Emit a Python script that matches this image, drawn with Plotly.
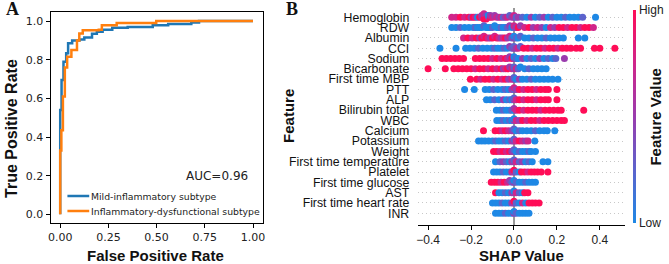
import numpy as np
import plotly.graph_objects as go

# ---------------- Panel A: ROC data ----------------
fpr_mild = [0, 0, 0.007, 0.017, 0.031, 0.041, 0.062, 0.10, 0.125, 0.165, 0.19, 0.22, 0.27, 0.35, 0.48, 0.56, 0.68, 0.72, 1.0]
tpr_mild = [0, 0.54, 0.695, 0.79, 0.833, 0.885, 0.90, 0.905, 0.915, 0.935, 0.945, 0.955, 0.965, 0.97, 0.978, 0.985, 0.993, 1.0, 1.0]
fpr_infl = [0, 0, 0.006, 0.014, 0.024, 0.036, 0.058, 0.087, 0.099, 0.117, 0.20, 0.216, 0.293, 0.498, 1.0]
tpr_infl = [0, 0.33, 0.435, 0.61, 0.76, 0.815, 0.85, 0.90, 0.936, 0.953, 0.955, 0.979, 0.99, 1.0, 1.0]
series_names = ["Mild-inflammatory subtype", "Inflammatory-dysfunctional subtype"]
series_colors = ["#1f77b4", "#ff7f0e"]
auc_label = "AUC=0.96"
roc_xticks = [0, 0.25, 0.5, 0.75, 1.0]
roc_xticktext = ["0.00", "0.25", "0.50", "0.75", "1.00"]
roc_yticks = [0, 0.2, 0.4, 0.6, 0.8, 1.0]
roc_yticktext = ["0.0", "0.2", "0.4", "0.6", "0.8", "1.0"]

# ---------------- Panel B: SHAP beeswarm data ----------------
features = ["Hemoglobin", "RDW", "Albumin", "CCI", "Sodium", "Bicarbonate", "First time MBP",
            "PTT", "ALP", "Bilirubin total", "WBC", "Calcium", "Potassium", "Weight",
            "First time temperature", "Platelet", "First time glucose", "AST",
            "First time heart rate", "INR"]

# (SHAP value, feature-value level 0=low .. 4=high)
hemoglobin = [(-0.29,3),(-0.27,3),(-0.25,4),(-0.23,3),(-0.21,4),(-0.20,2),(-0.19,4),(-0.18,3),(-0.17,0),(-0.16,4),
              (-0.15,3),(-0.15,2),(-0.14,4),(-0.14,3),(-0.13,4),(-0.13,2),(-0.13,4),(-0.12,3),(-0.12,0),(-0.11,4),
              (-0.11,2),(-0.10,3),(-0.09,2),(-0.08,3),(-0.07,2),(-0.06,3),(-0.05,1),(-0.04,2),(-0.03,3),(-0.02,1),
              (-0.01,2),(0.0,2),(0.0,3),(0.01,1),(0.02,2),(0.04,1),(0.06,0),(0.08,2),(0.10,0),(0.12,1),(0.14,2),
              (0.16,0),(0.18,1),(0.20,0),(0.22,0),(0.24,1),(0.26,0),(0.28,0),(0.30,0),(0.32,1),(0.38,0)]
rdw = [(-0.29,0),(-0.27,0),(-0.25,1),(-0.23,0),(-0.21,0),(-0.19,0),(-0.18,1),(-0.17,0),(-0.16,0),(-0.15,0),
       (-0.14,1),(-0.13,0),(-0.12,0),(-0.11,0),(-0.10,1),(-0.09,0),(-0.08,0),(-0.07,0),(-0.06,1),(-0.05,0),
       (-0.04,0),(-0.03,1),(-0.02,2),(-0.01,0),(0.0,1),(0.0,3),(0.01,2),(0.02,4),(0.03,2),(0.05,3),(0.07,4),
       (0.09,2),(0.11,3),(0.13,2),(0.15,0),(0.17,3),(0.19,2),(0.21,4),(0.23,4),(0.25,3),(0.27,4),(0.29,4),
       (0.31,3),(0.33,4),(0.35,4),(0.37,3)]
albumin = [(-0.235,3),(-0.215,4),(-0.195,3),(-0.175,4),(-0.16,2),(-0.15,4),(-0.14,3),(-0.13,4),(-0.12,3),(-0.11,2),
           (-0.10,4),(-0.09,3),(-0.08,4),(-0.07,3),(-0.06,2),(-0.05,3),(-0.04,4),(-0.03,2),(-0.02,3),(-0.01,1),
           (0.0,2),(0.0,0),(0.01,1),(0.02,0),(0.03,1),(0.05,0),(0.07,0),(0.09,1),(0.11,0),(0.13,0),(0.15,1),
           (0.17,0),(0.19,0),(0.21,0),(0.23,0),(0.30,0),(0.33,0)]
cci = [(-0.345,0),(-0.27,0),(-0.225,0),(-0.205,0),(-0.185,0),(-0.165,1),(-0.145,0),(-0.125,0),(-0.105,0),(-0.09,1),
       (-0.075,0),(-0.06,0),(-0.045,1),(-0.03,0),(-0.02,2),(-0.01,1),(0.0,2),(0.0,1),(0.01,2),(0.02,3),(0.03,1),
       (0.045,4),(0.065,4),(0.085,3),(0.105,4),(0.125,4),(0.145,3),(0.165,4),(0.185,4),(0.205,3),(0.225,4),
       (0.245,4),(0.265,4),(0.29,4),(0.31,4),(0.375,4),(0.40,4),(0.47,4)]
sodium = [(-0.335,4),(-0.315,4),(-0.295,4),(-0.275,4),(-0.255,4),(-0.235,4),(-0.18,4),(-0.16,4),(-0.14,4),(-0.12,4),
          (-0.10,3),(-0.08,4),(-0.06,3),(-0.04,4),(-0.03,3),(-0.02,2),(-0.01,4),(0.0,2),(0.0,0),(0.01,1),(0.02,0),
          (0.04,2),(0.06,0),(0.08,1),(0.10,0),(0.12,2),(0.14,0),(0.16,1),(0.18,0),(0.195,1),(0.235,2)]
bicarbonate = [(-0.40,4),(-0.32,4),(-0.28,4),(-0.26,4),(-0.24,4),(-0.22,4),(-0.20,4),(-0.18,3),(-0.16,4),(-0.14,4),
               (-0.12,3),(-0.10,4),(-0.08,3),(-0.06,4),(-0.05,2),(-0.04,3),(-0.03,4),(-0.02,2),(-0.01,3),(0.0,2),
               (0.0,1),(0.01,3),(0.02,1),(0.03,0),(0.05,0),(0.07,1),(0.09,0),(0.11,0),(0.13,0),(0.15,0)]
mbp = [(-0.203,4),(-0.174,4),(-0.155,3),(-0.135,4),(-0.115,4),(-0.095,3),(-0.075,4),(-0.055,3),(-0.04,4),(-0.025,2),
       (-0.01,3),(0.0,2),(0.0,1),(0.01,0),(0.025,2),(0.04,0),(0.06,0),(0.08,1),(0.10,0),(0.12,0),(0.14,0),(0.16,0),
       (0.18,0),(0.205,0)]
ptt = [(-0.23,0),(-0.185,0),(-0.134,0),(-0.115,0),(-0.095,1),(-0.075,0),(-0.055,0),(-0.04,1),(-0.025,0),(-0.01,2),
       (0.0,1),(0.0,3),(0.01,2),(0.025,4),(0.045,3),(0.065,4),(0.085,4),(0.105,3),(0.125,4),(0.145,4),(0.16,4),(0.20,4)]
alp = [(-0.128,0),(-0.11,0),(-0.09,1),(-0.07,0),(-0.05,2),(-0.035,0),(-0.02,1),(-0.01,0),(0.0,2),(0.0,1),(0.01,3),
       (0.025,4),(0.045,3),(0.065,4),(0.085,4),(0.105,3),(0.125,4),(0.145,4),(0.16,4),(0.20,4)]
bilirubin = [(-0.082,0),(-0.065,0),(-0.05,1),(-0.035,0),(-0.02,0),(-0.01,1),(0.0,0),(0.0,2),(0.01,3),(0.025,4),
             (0.045,3),(0.065,4),(0.085,4),(0.105,4),(0.125,3),(0.145,4),(0.165,4),(0.185,4),(0.205,4),(0.22,4),(0.325,4)]
wbc = [(-0.08,0),(-0.065,0),(-0.05,1),(-0.035,0),(-0.02,1),(-0.01,0),(0.0,2),(0.0,0),(0.01,3),(0.025,2),(0.04,4),
       (0.06,3),(0.08,4),(0.10,4),(0.12,3),(0.14,4),(0.16,4),(0.18,4),(0.20,4),(0.22,4),(0.235,4)]
calcium = [(-0.142,4),(-0.088,4),(-0.07,4),(-0.055,3),(-0.04,4),(-0.025,3),(-0.01,2),(0.0,2),(0.0,1),(0.01,0),
           (0.025,1),(0.04,0),(0.06,0),(0.08,0),(0.10,1),(0.12,0),(0.14,0),(0.155,0),(0.19,0)]
potassium = [(-0.165,0),(-0.15,0),(-0.135,0),(-0.118,0),(-0.10,0),(-0.085,1),(-0.07,0),(-0.055,0),(-0.04,1),(-0.025,0),
             (-0.01,2),(0.0,2),(0.0,1),(0.01,3),(0.025,4),(0.04,3),(0.055,2),(0.066,3),(0.097,0)]
weight = [(-0.095,4),(-0.08,4),(-0.065,3),(-0.05,4),(-0.035,3),(-0.02,4),(-0.01,2),(0.0,2),(0.0,1),(0.01,0),
          (0.025,1),(0.04,0),(0.055,0),(0.07,1),(0.08,0),(0.10,0)]
temperature = [(-0.086,0),(-0.065,1),(-0.05,2),(-0.035,1),(-0.02,0),(-0.01,2),(0.0,2),(0.0,1),(0.01,3),(0.025,1),
               (0.04,2),(0.055,0),(0.07,1),(0.085,0),(0.135,0),(0.158,0)]
platelet = [(-0.095,0),(-0.08,0),(-0.065,0),(-0.05,1),(-0.035,0),(-0.02,0),(-0.01,3),(0.0,2),(0.0,4),(0.01,1),
            (0.025,0),(0.035,4),(0.05,4),(0.065,3),(0.08,4),(0.095,4),(0.11,4),(0.127,4),(0.158,4)]
glucose = [(-0.106,4),(-0.09,4),(-0.075,4),(-0.06,3),(-0.045,4),(-0.03,3),(-0.02,2),(-0.01,1),(0.0,2),(0.0,0),
           (0.01,1),(0.025,0),(0.04,0),(0.055,1),(0.07,0),(0.085,0),(0.10,0)]
ast = [(-0.086,4),(-0.07,0),(-0.055,0),(-0.04,1),(-0.025,0),(-0.01,2),(0.0,2),(0.0,0),(0.01,3),(0.025,1),(0.04,0),
       (0.05,4),(0.065,4)]
heart_rate = [(-0.10,0),(-0.085,0),(-0.07,0),(-0.055,1),(-0.04,0),(-0.025,0),(-0.01,2),(0.0,2),(0.0,4),(0.01,1),
              (0.025,0),(0.04,3),(0.055,0),(0.07,4),(0.085,4),(0.10,4),(0.117,4)]
inr = [(-0.086,0),(-0.07,0),(-0.055,0),(-0.04,1),(-0.025,0),(-0.01,0),(0.0,2),(0.0,0),(0.01,1),(0.025,0),(0.04,0),
       (0.055,0),(0.07,0)]

feature_points = [hemoglobin, rdw, albumin, cci, sodium, bicarbonate, mbp, ptt, alp, bilirubin, wbc, calcium,
                  potassium, weight, temperature, platelet, glucose, ast, heart_rate, inr]
shap_xticks = [-0.4, -0.2, 0.0, 0.2, 0.4]

# ---------------- layout helpers ----------------
W, H = 669, 264


def px_x(p):
    return p / W


def px_y(p):
    return 1 - p / H


def swarm_offsets(xs, bin_w=0.012, step=0.17, cap=0.42):
    xs = np.asarray(xs, dtype=float)
    bins = np.round(xs / bin_w).astype(int)
    off = np.zeros(len(xs))
    counts = {}
    for i in np.argsort(xs, kind="stable"):
        k = counts.get(bins[i], 0)
        counts[bins[i]] = k + 1
        sign = 1 if k % 2 else -1
        off[i] = ((k + 1) // 2) * step * sign
    return np.clip(off, -cap, cap)


n = len(features)
sx, sy, sc = [], [], []
for i, pts in enumerate(feature_points):
    xs = [p[0] for p in pts]
    lv = [p[1] / 4 for p in pts]
    offs = swarm_offsets(xs)
    row = n - 1 - i
    sx += xs
    sy += list(row + offs)
    sc += lv

fig = go.Figure()

fig.add_trace(go.Scatter(x=fpr_mild, y=tpr_mild, mode="lines", line=dict(color=series_colors[0], width=2.5, shape="hv"),
                         name=series_names[0], xaxis="x", yaxis="y", showlegend=False))
fig.add_trace(go.Scatter(x=fpr_infl, y=tpr_infl, mode="lines", line=dict(color=series_colors[1], width=2.5, shape="hv"),
                         name=series_names[1], xaxis="x", yaxis="y", showlegend=False))

colorscale = [[0, "#1E88E5"], [0.25, "#5C63CC"], [0.5, "#9A3CAE"], [0.75, "#D0258A"], [1, "#FF0D57"]]
fig.add_trace(go.Scatter(
    x=sx, y=sy, mode="markers", xaxis="x2", yaxis="y2", showlegend=False,
    marker=dict(size=7, color=sc, cmin=0, cmax=1, colorscale=colorscale, line=dict(width=0),
                showscale=True,
                colorbar=dict(x=px_x(636), xanchor="left", xpad=0, y=px_y(116), yanchor="middle",
                              len=213 / H, lenmode="fraction", ypad=0, thickness=3, outlinewidth=0,
                              tickvals=[0, 1], ticktext=["Low", "High"], ticks="",
                              tickfont=dict(family="Liberation Sans", size=12, color="#222")))))

axis_font = dict(family="DejaVu Sans", size=11, color="#222")
fig.update_layout(
    width=W, height=H, autosize=False, margin=dict(l=0, r=0, t=0, b=0),
    paper_bgcolor="white", plot_bgcolor="white", showlegend=False,
    xaxis=dict(domain=[px_x(48), px_x(262)], range=[-0.05, 1.05], tickvals=roc_xticks, ticktext=roc_xticktext,
               ticks="outside", ticklen=4, tickcolor="black", showline=True, mirror=True, linecolor="black",
               linewidth=1, showgrid=False, zeroline=False, tickfont=axis_font, anchor="y"),
    yaxis=dict(domain=[px_y(223), px_y(12)], range=[-0.045, 1.047], tickvals=roc_yticks, ticktext=roc_yticktext,
               ticks="outside", ticklen=4, tickcolor="black", showline=True, mirror=True, linecolor="black",
               linewidth=1, showgrid=False, zeroline=False, tickfont=axis_font, anchor="x"),
    xaxis2=dict(domain=[px_x(419), px_x(628)], range=[-0.446, 0.519], tickvals=shap_xticks, tickformat=".1f",
                ticks="outside", ticklen=4, tickcolor="black", showline=True, mirror=False, linecolor="black",
                linewidth=1, showgrid=False, zeroline=True, zerolinecolor="#999999", zerolinewidth=1.5,
                tickfont=dict(family="Liberation Sans", size=12, color="#222"), anchor="y2"),
    yaxis2=dict(domain=[px_y(225), px_y(8)], range=[-1.134, 19.9], tickvals=list(range(n)),
                ticktext=features[::-1], ticks="", showline=False, showgrid=True, gridcolor="#c8c8c8",
                griddash="1px,3px", gridwidth=1, zeroline=False, ticklabelstandoff=8,
                tickfont=dict(family="Liberation Sans", size=12.3, color="#111"), anchor="x2"),
)

# legend drawn as sample lines + labels (inside panel A)
legend_rows_px = [196, 211]
for name, color, ypx in zip(series_names, series_colors, legend_rows_px):
    fig.add_shape(type="line", xref="paper", yref="paper", x0=px_x(65), x1=px_x(87), y0=px_y(ypx), y1=px_y(ypx),
                  line=dict(color=color, width=2.5))
    fig.add_annotation(text=name, xref="paper", yref="paper", x=px_x(87), y=px_y(ypx), xanchor="left",
                       yanchor="middle", showarrow=False, font=dict(family="DejaVu Sans", size=9.3, color="#222"))

title_font = dict(family="Liberation Sans", size=15, color="#111")
annots = [
    dict(text="<b>True Positive Rate</b>", x=px_x(8), y=px_y(128), textangle=-90, font=dict(family="Liberation Sans", size=16, color="#111")),
    dict(text="<b>False Positive Rate</b>", x=px_x(154), y=px_y(255), font=title_font),
    dict(text="<b>Feature</b>", x=px_x(288), y=px_y(115.5), textangle=-90, font=title_font),
    dict(text="<b>SHAP Value</b>", x=px_x(523), y=px_y(255), font=title_font),
    dict(text="<b>Feature Value</b>", x=px_x(658), y=px_y(116.5), textangle=-90, font=title_font),
    dict(text="<b>A</b>", x=px_x(10), y=px_y(9), font=dict(family="Liberation Serif", size=18, color="#111")),
    dict(text="<b>B</b>", x=px_x(291.5), y=px_y(9), font=dict(family="Liberation Serif", size=18, color="#111")),
]
for a in annots:
    fig.add_annotation(xref="paper", yref="paper", showarrow=False, xanchor="center", yanchor="middle", **a)
fig.add_annotation(text=auc_label, xref="x", yref="y", x=0.815, y=0.2, showarrow=False,
                   font=dict(family="DejaVu Sans", size=12, color="#222"))

fig.write_html("out.html", config={"displayModeBar": False})

# remove the default page margin so the figure sits at the window's top-left corner
with open("out.html", "r", encoding="utf-8") as f:
    html = f.read()
html = html.replace("<head>", "<head><style>html,body{margin:0;padding:0;overflow:hidden;}</style>", 1)
with open("out.html", "w", encoding="utf-8") as f:
    f.write(html)
